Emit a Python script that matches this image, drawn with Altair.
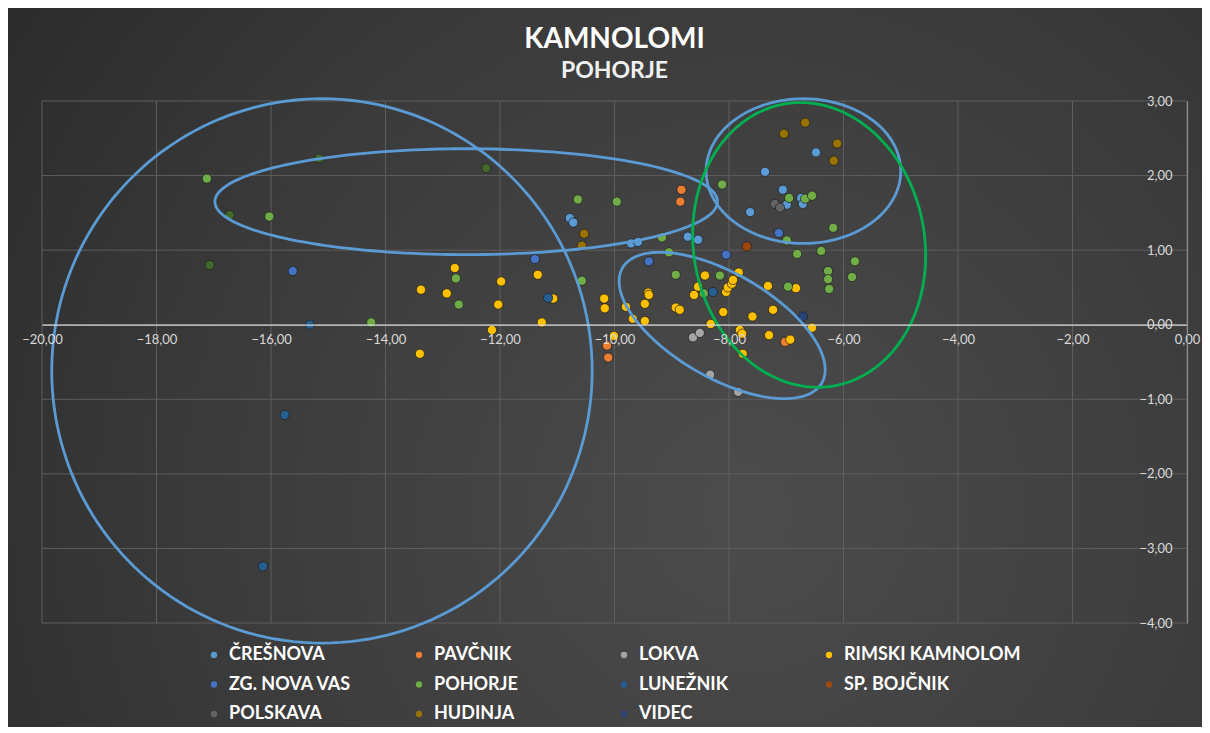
import math
import numpy as np
import pandas as pd
import altair as alt

# ---------------- data ----------------
SERIES = ["ČREŠNOVA", "PAVČNIK", "LOKVA", "RIMSKI KAMNOLOM",
          "ZG. NOVA VAS", "POHORJE", "LUNEŽNIK", "SP. BOJČNIK",
          "POLSKAVA", "HUDINJA", "VIDEC"]
HIDDEN_SERIES = "POHORJE (2)"
COLORS = ["#5B9BD5", "#ED7D31", "#A5A5A5", "#FFC000",
          "#4472C4", "#70AD47", "#255E91", "#9E480E",
          "#636363", "#997300", "#264478"]
HIDDEN_COLOR = "#43682B"

CRESNOVA = [(-6.48, 2.31), (-7.37, 2.05), (-7.06, 1.81), (-6.74, 1.70), (-6.71, 1.62),
            (-6.99, 1.61), (-7.63, 1.51), (-10.78, 1.43), (-10.72, 1.37), (-9.71, 1.09),
            (-9.59, 1.11), (-8.72, 1.18), (-8.54, 1.14)]
PAVCNIK = [(-8.83, 1.81), (-8.85, 1.65), (-10.13, -0.28), (-10.11, -0.44), (-7.02, -0.23)]
LOKVA = [(-8.63, -0.17), (-8.51, -0.11), (-8.33, -0.67), (-7.84, -0.90)]
RIMSKI = [(-12.79, 0.76), (-13.38, 0.47), (-12.93, 0.42), (-11.98, 0.58), (-12.03, 0.27),
          (-11.34, 0.67), (-11.07, 0.35), (-11.27, 0.03), (-12.14, -0.07), (-13.40, -0.39),
          (-10.18, 0.35), (-10.17, 0.22), (-10.01, -0.15), (-9.80, 0.24), (-9.68, 0.08),
          (-9.47, 0.05), (-9.47, 0.28), (-9.41, 0.43), (-9.40, 0.40), (-8.93, 0.23),
          (-8.86, 0.20), (-8.61, 0.40), (-8.54, 0.51), (-8.42, 0.66), (-8.32, 0.01),
          (-8.10, 0.17), (-8.05, 0.44), (-8.02, 0.50), (-7.95, 0.55), (-7.93, 0.60),
          (-7.83, 0.70), (-7.59, 0.11), (-7.81, -0.07), (-7.77, -0.12), (-7.76, -0.39),
          (-7.32, 0.52), (-6.83, 0.49), (-7.23, 0.20), (-6.55, -0.04), (-7.30, -0.14),
          (-6.93, -0.20)]
ZG_NOVA_VAS = [(-15.62, 0.72), (-11.39, 0.88), (-9.40, 0.85), (-8.05, 0.94), (-7.13, 1.23)]
POHORJE = [(-17.12, 1.96), (-16.03, 1.45), (-14.25, 0.03), (-12.77, 0.62), (-12.72, 0.27),
           (-10.64, 1.68), (-9.96, 1.65), (-10.57, 0.59), (-8.12, 1.88), (-6.95, 1.70),
           (-6.67, 1.69), (-6.55, 1.73), (-6.18, 1.30), (-6.99, 1.13), (-6.81, 0.95),
           (-6.39, 0.99), (-5.80, 0.85), (-9.17, 1.17), (-9.05, 0.97), (-6.27, 0.72),
           (-6.27, 0.61), (-5.85, 0.64), (-6.25, 0.48), (-6.97, 0.51), (-8.93, 0.67),
           (-8.16, 0.66), (-8.44, 0.42)]
LUNEZNIK = [(-15.32, 0.00), (-15.76, -1.21), (-16.14, -3.24), (-11.16, 0.36), (-8.28, 0.44)]
SP_BOJCNIK = [(-7.69, 1.05)]
POLSKAVA = [(-7.20, 1.62), (-7.11, 1.57)]
HUDINJA = [(-6.67, 2.71), (-7.04, 2.56), (-6.11, 2.43), (-6.17, 2.20), (-10.53, 1.22), (-10.57, 1.06)]
VIDEC = [(-6.71, 0.11)]
POHORJE_2 = [(-16.72, 1.47), (-17.07, 0.80), (-15.16, 2.23), (-12.24, 2.10)]

X_TICKS = [-20, -18, -16, -14, -12, -10, -8, -6, -4, -2, 0]
Y_TICKS = [-4, -3, -2, -1, 0, 1, 2, 3]

# hand-drawn ellipses: centre (data), semi-axes (data), rotation (deg, screen), colour
ELLIPSES = [
    ("e1", -15.11, -0.62, 4.72, 3.65, 0, "#5B9BD5"),
    ("e2", -12.59, 1.65, 4.39, 0.71, 0, "#5B9BD5"),
    ("e3", -6.70, 2.06, 1.70, 0.97, 0, "#5B9BD5"),
    ("e4", -8.12, -0.01, 2.01, 0.70, -30, "#5B9BD5"),
    ("e5", -6.60, 1.07, 2.50, 1.55, 100, "#00B050"),
]

# ---------------- layout ----------------
W, H = 1145, 522
PAD_L, PAD_T, PAD_R, PAD_B = 34, 93, 15, 104
XMIN, XMAX, YMIN, YMAX = -20, 0, -4, 3

groups = [CRESNOVA, PAVCNIK, LOKVA, RIMSKI, ZG_NOVA_VAS, POHORJE, LUNEZNIK,
          SP_BOJCNIK, POLSKAVA, HUDINJA, VIDEC]
rows = []
for name, pts in zip(SERIES, groups):
    for x, y in pts:
        rows.append({"x": x, "y": y, "serija": name})
for x, y in POHORJE_2:
    rows.append({"x": x, "y": y, "serija": HIDDEN_SERIES})
df = pd.DataFrame(rows)

sx = W / (XMAX - XMIN)
sy = H / (YMAX - YMIN)
erows = []
for eid, cx, cy, rx, ry, ang, col in ELLIPSES:
    th = math.radians(ang)
    a_px, b_px = rx * sx, ry * sy
    for i, t in enumerate(np.linspace(0, 2 * math.pi, 181)):
        u, v = a_px * math.cos(t), b_px * math.sin(t)
        dx = (u * math.cos(th) - v * math.sin(th)) / sx
        dy = (u * math.sin(th) + v * math.cos(th)) / sy
        erows.append({"x": cx + dx, "y": cy + dy, "id": eid, "i": i, "barva": col})
edf = pd.DataFrame(erows)

x_scale = alt.Scale(domain=[XMIN, XMAX], nice=False, zero=False)
y_scale = alt.Scale(domain=[YMIN, YMAX], nice=False, zero=False)
LABEL_EXPR = "replace(format(datum.value, '.2f'), '.', ',')"
x_axis = alt.Axis(orient="bottom", offset=-H * (0 - YMIN) / (YMAX - YMIN), values=X_TICKS,
                  labelExpr=LABEL_EXPR, grid=False, ticks=False, domainColor="#d9d9d9",
                  domainWidth=1.3, labelColor="#d9d9d9", labelFont="Lato", labelFontSize=13,
                  labelPadding=9, labelFlush=False, labelOverlap=False, title=None, zindex=1)
y_axis = alt.Axis(orient="left", offset=-W, values=Y_TICKS, labelExpr=LABEL_EXPR,
                  grid=False, ticks=False, domainColor="#8c8c8c", domainWidth=1.2,
                  labelColor="#d9d9d9", labelFont="Lato", labelFontSize=13, labelPadding=15,
                  labelFlush=False, labelOverlap=False, title=None, zindex=1)

bg = alt.Chart(pd.DataFrame({"a": [0]})).mark_rect(
    fill=alt.Gradient(gradient="radial",
                      stops=[alt.GradientStop(color="#4c4c4c", offset=0),
                             alt.GradientStop(color="#3a3a3a", offset=0.55),
                             alt.GradientStop(color="#262626", offset=1)],
                      x1=0.62, y1=0.62, x2=0.62, y2=0.62, r1=0, r2=0.85)
).encode(x=alt.value(-PAD_L), x2=alt.value(W + PAD_R),
         y=alt.value(-PAD_T), y2=alt.value(H + PAD_B))

vgrid = alt.Chart(pd.DataFrame({"x": X_TICKS})).mark_rule(color="#5e5e5e", strokeWidth=1).encode(
    x=alt.X("x:Q", scale=x_scale, axis=x_axis))
hgrid = alt.Chart(pd.DataFrame({"y": Y_TICKS})).mark_rule(color="#5e5e5e", strokeWidth=1).encode(
    y=alt.Y("y:Q", scale=y_scale, axis=y_axis))

legend = alt.Legend(orient="none", legendX=163, legendY=545, direction="horizontal",
                    columns=4, gridAlign="all", columnPadding=4, rowPadding=11.5,
                    symbolType="circle", symbolSize=40, symbolStrokeWidth=0,
                    labelFont="Lato", labelFontSize=18, labelFontWeight="bold",
                    labelColor="#ffffff", labelOffset=6, labelLimit=400,
                    title=None, values=SERIES)

points = alt.Chart(df).mark_circle(size=85, opacity=1, stroke="#1c1c1c", strokeWidth=0.7).encode(
    x=alt.X("x:Q", scale=x_scale, axis=x_axis),
    y=alt.Y("y:Q", scale=y_scale, axis=y_axis),
    color=alt.Color("serija:N", scale=alt.Scale(domain=SERIES + [HIDDEN_SERIES],
                                                range=COLORS + [HIDDEN_COLOR]),
                    legend=legend),
)

ellipses = alt.Chart(edf).mark_line(strokeWidth=2.8).encode(
    x=alt.X("x:Q", scale=x_scale, axis=x_axis),
    y=alt.Y("y:Q", scale=y_scale, axis=y_axis),
    detail="id:N",
    order="i:Q",
    stroke=alt.Stroke("barva:N", scale=None),
)

chart = alt.layer(bg, vgrid, hgrid, points, ellipses).properties(
    width=W, height=H,
    autosize=alt.AutoSizeParams(type="none"),
    padding={"left": PAD_L, "top": PAD_T, "right": PAD_R, "bottom": PAD_B},
    background="#333333",
    title=alt.TitleParams(text="KAMNOLOMI", subtitle="POHORJE", anchor="middle", frame="group",
                          font="Lato", fontSize=28, fontWeight="bold", color="#ffffff",
                          subtitleFont="Lato", subtitleFontSize=23, subtitleFontWeight="bold",
                          subtitleColor="#f0f0f0", subtitlePadding=6, offset=-75),
).configure_view(strokeWidth=0)

chart.save("out.html", embed_options={"renderer": "svg", "actions": False})
